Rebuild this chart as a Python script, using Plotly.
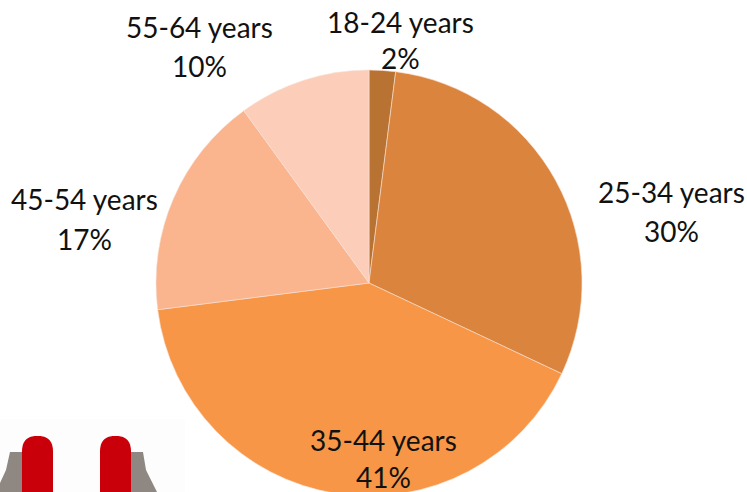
import plotly.graph_objects as go

categories = ["18-24 years", "25-34 years", "35-44 years", "45-54 years", "55-64 years"]
values = [2, 30, 41, 17, 10]
colors = ["#B87333", "#DB843D", "#F79646", "#FAB48E", "#FCCDB9"]
label_x = [400, 671, 384, 84, 199]
label_y1 = [22, 192, 440, 199, 27]
label_y2 = [58, 231, 477, 239, 66]

W, H = 747, 500


def px(x):
    return x / W


def py(y):
    return 1 - y / H


fig = go.Figure(
    go.Pie(
        labels=categories,
        values=values,
        sort=False,
        direction="clockwise",
        rotation=0,
        textinfo="none",
        hoverinfo="label+percent",
        marker=dict(colors=colors, line=dict(color="#F6E3D6", width=0.6)),
        domain=dict(x=[px(156), px(582)], y=[py(496), py(70)]),
    )
)

for cat, val, x, y1, y2 in zip(categories, values, label_x, label_y1, label_y2):
    for text, y in ((cat, y1), (f"{val}%", y2)):
        fig.add_annotation(
            text=text, x=px(x), y=py(y), xref="paper", yref="paper",
            xanchor="center", yanchor="middle", showarrow=False,
            font=dict(family="Lato, Carlito, sans-serif", size=28, color="#111111"),
        )


def path(points):
    return "M " + " L ".join(f"{px(x):.5f},{py(y):.5f}" for x, y in points) + " Z"


def bar(x0, x1, top, bottom):
    r = (x1 - x0) / 2
    xm = (x0 + x1) / 2
    return (
        f"M {px(x0):.5f},{py(bottom):.5f} L {px(x0):.5f},{py(top + r):.5f} "
        f"C {px(x0):.5f},{py(top):.5f} {px(xm - 4):.5f},{py(top):.5f} {px(xm):.5f},{py(top):.5f} "
        f"C {px(xm + 4):.5f},{py(top):.5f} {px(x1):.5f},{py(top):.5f} {px(x1):.5f},{py(top + r):.5f} "
        f"L {px(x1):.5f},{py(bottom):.5f} Z"
    )


shapes = [
    dict(d=path([(0, 419), (185, 419), (185, 500), (0, 500)]), c="#FDFDFD"),
    dict(d=path([(10, 452), (24, 452), (24, 500), (0, 500), (0, 483), (6, 470)]), c="#8F8782"),
    dict(d=path([(129, 452), (143, 452), (146, 470), (157, 492), (160, 500), (129, 500)]), c="#8F8782"),
    dict(d=bar(22, 53, 436, 500), c="#C90009"),
    dict(d=bar(100, 131, 436, 500), c="#C90009"),
]
for s in shapes:
    fig.add_shape(type="path", path=s["d"], xref="paper", yref="paper",
                  fillcolor=s["c"], line=dict(width=0), layer="below")

fig.update_layout(
    width=W, height=H, autosize=False, showlegend=False,
    margin=dict(l=0, r=0, t=0, b=0, pad=0),
    paper_bgcolor="white", plot_bgcolor="white",
)

fig.write_html(
    "out.html",
    config={"displayModeBar": False},
    post_script="document.documentElement.style.overflow='hidden';document.body.style.overflow='hidden';document.body.style.margin='0';",
)
